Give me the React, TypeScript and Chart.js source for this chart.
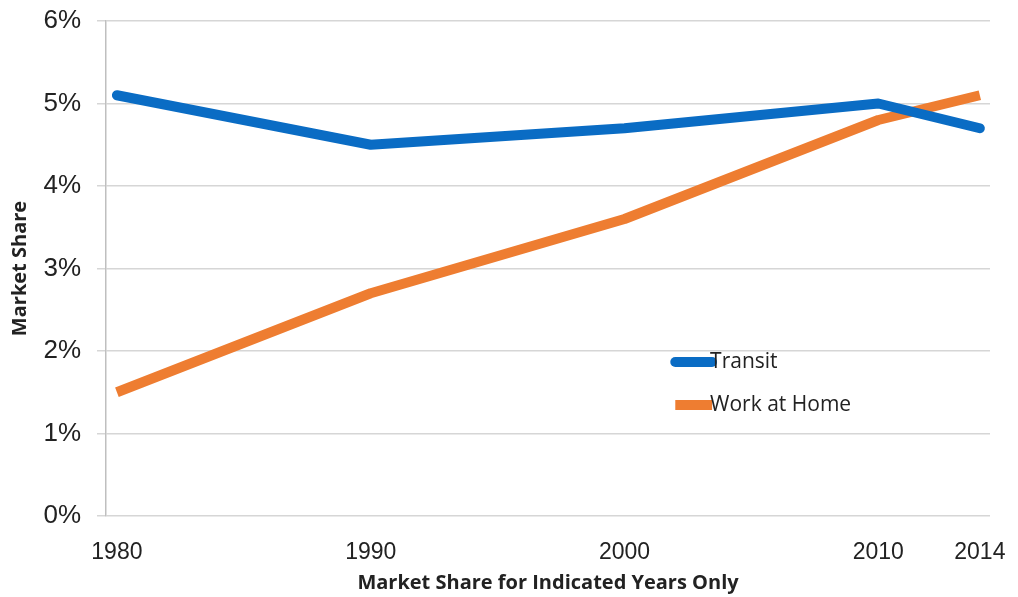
import React, { useEffect, useRef } from "react";
import { Chart, registerables } from "chart.js";

Chart.register(...registerables);

const years = [1980, 1990, 2000, 2010, 2014];
const transit = [5.1, 4.5, 4.7, 5.0, 4.7];
const workAtHome = [1.5, 2.7, 3.6, 4.8, 5.1];
const yTicks = [0, 1, 2, 3, 4, 5, 6];
const seriesNames = ["Transit", "Work at Home"];
const seriesColors = ["#0A6CC4", "#EE7D31"];

const legendPlugin = {
  id: "insideLegend",
  afterDatasetsDraw(chart: any) {
    const { ctx } = chart;
    const xs = chart.scales.x;
    const ys = chart.scales.y;
    const x0 = xs.getPixelForValue(2002.0);
    const x1 = xs.getPixelForValue(2003.45);
    const rows = [2.0, 1.48];
    ctx.save();
    seriesNames.forEach((name, i) => {
      const y = ys.getPixelForValue(rows[i]) + 11;
      ctx.strokeStyle = seriesColors[i];
      ctx.lineWidth = 10;
      ctx.lineCap = i === 0 ? "round" : "butt";
      ctx.beginPath();
      ctx.moveTo(x0, y);
      ctx.lineTo(x1, y);
      ctx.stroke();
      ctx.fillStyle = "#222";
      ctx.font = "21px 'Open Sans', 'Noto Sans', sans-serif";
      ctx.textBaseline = "middle";
      ctx.textAlign = "left";
      ctx.fillText(name, x1 - 2, y);
    });
    ctx.restore();
  },
};

export default function App() {
  const ref = useRef<HTMLCanvasElement>(null);
  useEffect(() => {
    if (!ref.current) return;
    const chart = new Chart(ref.current, {
      type: "line",
      data: {
        datasets: [
          {
            label: seriesNames[0],
            data: years.map((y, i) => ({ x: y, y: transit[i] })),
            borderColor: seriesColors[0],
            backgroundColor: seriesColors[0],
            borderWidth: 10,
            pointRadius: 0,
            borderCapStyle: "round",
            borderJoinStyle: "round",
          },
          {
            label: seriesNames[1],
            data: years.map((y, i) => ({ x: y, y: workAtHome[i] })),
            borderColor: seriesColors[1],
            backgroundColor: seriesColors[1],
            borderWidth: 10,
            pointRadius: 0,
            borderCapStyle: "butt",
            borderJoinStyle: "round",
          },
        ],
      },
      options: {
        responsive: false,
        animation: false,
        layout: { padding: { left: 8, right: 28, top: 21, bottom: 0 } },
        plugins: { legend: { display: false }, tooltip: { enabled: false } },
        scales: {
          x: {
            type: "linear",
            min: 1979.57,
            max: 2014.4,
            afterBuildTicks: (s: any) => {
              s.ticks = years.map((v) => ({ value: v }));
            },
            afterFit: (s: any) => {
              s.height = 81;
              s.paddingLeft = 0;
              s.paddingRight = 0;
            },
            grid: { display: false },
            border: { display: false },
            ticks: {
              autoSkip: false,
              maxRotation: 0,
              padding: 15,
              color: "#222",
              font: { family: "'Liberation Sans Narrow', 'Liberation Sans', Arial, sans-serif", size: 23 },
              callback: (v: any) => String(v),
            },
            title: {
              display: true,
              text: "Market Share for Indicated Years Only",
              color: "#222",
              font: { family: "'Open Sans', 'Liberation Sans', sans-serif", size: 20, weight: "bold" },
              padding: { top: 0, bottom: 2 },
            },
          },
          y: {
            min: 0,
            max: 6,
            afterBuildTicks: (s: any) => {
              s.ticks = yTicks.map((v) => ({ value: v }));
            },
            afterFit: (s: any) => {
              s.width = 98;
              s.paddingTop = 0;
              s.paddingBottom = 0;
            },
            grid: { color: "#D6D6D6", lineWidth: 1.5, tickLength: 9 },
            border: { display: true, color: "#BFBFBF", width: 1.5 },
            ticks: {
              padding: 16,
              color: "#222",
              font: { family: "'Liberation Sans', Arial, sans-serif", size: 26 },
              callback: (v: any) => v + "%",
            },
            title: {
              display: true,
              text: "Market Share",
              color: "#222",
              font: { family: "'Open Sans', 'Liberation Sans', sans-serif", size: 20, weight: "bold" },
              padding: { top: 0, bottom: 0 },
            },
          },
        },
      },
      plugins: [legendPlugin],
    } as any);
    return () => chart.destroy();
  }, []);
  return (
    <div style={{ position: "fixed", left: 0, top: 0, width: 1018, height: 597, background: "#fff" }}>
      <canvas ref={ref} width={1018} height={597} />
    </div>
  );
}
